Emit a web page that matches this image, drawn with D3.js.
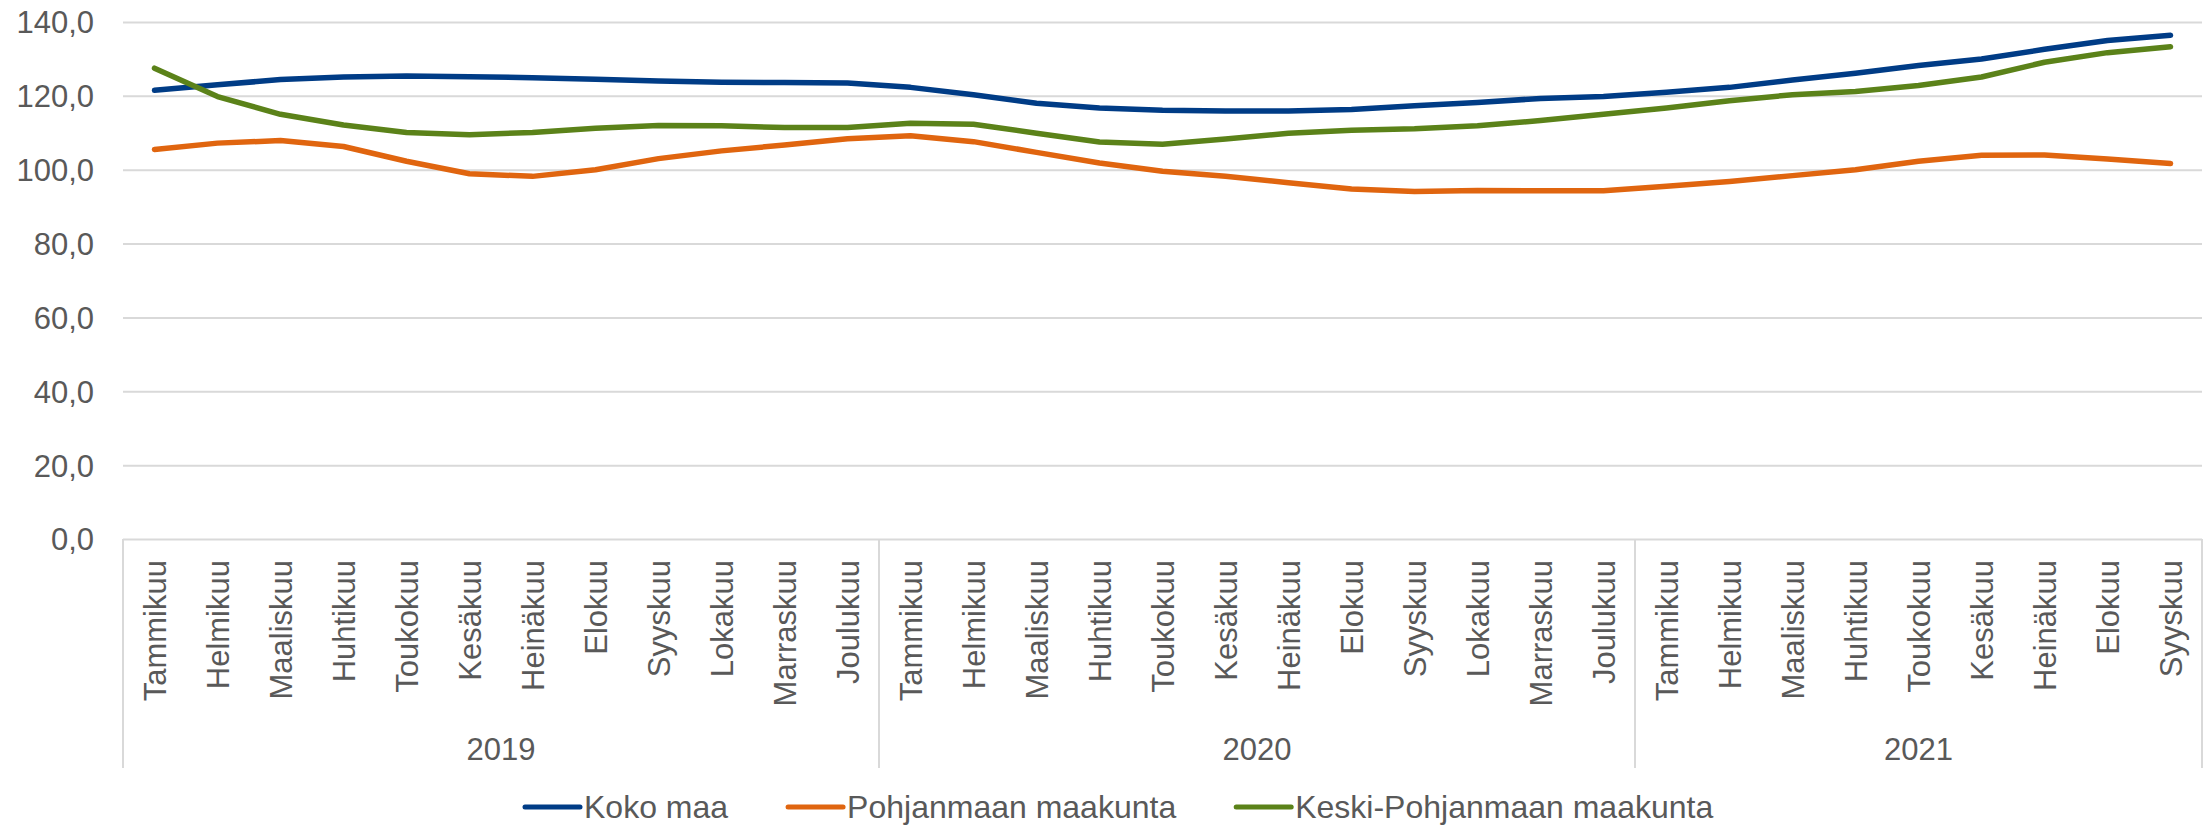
<!DOCTYPE html>
<html>
<head>
<meta charset="utf-8">
<script src="https://cdn.jsdelivr.net/npm/d3@7"></script>
<style>
  body { margin: 0; background: #fff; }
  text { font-family: "Liberation Sans", Arial, sans-serif; fill: #595959; }
</style>
</head>
<body>
<div id="chart-area"></div>
<script>
const years = ['2019', '2020', '2021'];
const months2019 = ['Tammikuu', 'Helmikuu', 'Maaliskuu', 'Huhtikuu', 'Toukokuu', 'Kesäkuu',
  'Heinäkuu', 'Elokuu', 'Syyskuu', 'Lokakuu', 'Marraskuu', 'Joulukuu'];
const months2020 = ['Tammikuu', 'Helmikuu', 'Maaliskuu', 'Huhtikuu', 'Toukokuu', 'Kesäkuu',
  'Heinäkuu', 'Elokuu', 'Syyskuu', 'Lokakuu', 'Marraskuu', 'Joulukuu'];
const months2021 = ['Tammikuu', 'Helmikuu', 'Maaliskuu', 'Huhtikuu', 'Toukokuu', 'Kesäkuu',
  'Heinäkuu', 'Elokuu', 'Syyskuu'];

const kokoMaa = [
  121.5, 123.0, 124.4, 125.1, 125.4, 125.2, 124.9, 124.5, 124.0, 123.7, 123.6, 123.5,
  122.3, 120.3, 118.0, 116.7, 116.1, 115.9, 115.9, 116.3, 117.3, 118.2, 119.3, 119.8,
  121.0, 122.3, 124.3, 126.1, 128.2, 130.0, 132.6, 135.0, 136.4
];
const pohjanmaa = [
  105.5, 107.2, 107.9, 106.3, 102.3, 98.9, 98.2, 100.0, 103.0, 105.1, 106.7, 108.4,
  109.2, 107.6, 104.7, 101.8, 99.6, 98.2, 96.5, 94.8, 94.1, 94.4, 94.3, 94.3,
  95.5, 96.8, 98.4, 100.0, 102.3, 103.9, 104.0, 102.9, 101.7
];
const keskiPohjanmaa = [
  127.5, 119.8, 115.0, 112.1, 110.1, 109.5, 110.1, 111.2, 112.0, 111.9, 111.4, 111.4,
  112.6, 112.3, 109.9, 107.5, 106.9, 108.3, 109.9, 110.7, 111.1, 111.9, 113.3, 115.0,
  116.7, 118.7, 120.3, 121.2, 122.8, 125.1, 129.1, 131.7, 133.3
];
const seriesNames = ['Koko maa', 'Pohjanmaan maakunta', 'Keski-Pohjanmaan maakunta'];
const yTicks = [0, 20, 40, 60, 80, 100, 120, 140];

const colors = ['#003c86', '#e0650f', '#5b8219'];
const chartSize = { width: 2211, height: 827 };
const margin = { left: 123, right: 9, top: 22, bottom: 288 };
const width = chartSize.width - (margin.left + margin.right);
const height = chartSize.height - (margin.top + margin.bottom);
const gridColor = '#d9d9d9';
const fontSize = 31;

const main = () => {
  const monthGroups = [months2019, months2020, months2021];
  const categories = monthGroups.flatMap((ms, g) => ms.map(m => ({ year: years[g], month: m })));
  const series = [kokoMaa, pohjanmaa, keskiPohjanmaa];

  const svg = d3.select('#chart-area').append('svg')
    .attr('width', chartSize.width)
    .attr('height', chartSize.height);

  const g = svg.append('g')
    .attr('transform', `translate(${margin.left},${margin.top})`);

  const x = d3.scaleBand()
    .domain(d3.range(categories.length))
    .range([0, width]);

  const y = d3.scaleLinear()
    .domain([0, 140])
    .range([height, 0]);

  // y axis with gridlines
  const yAxis = d3.axisLeft(y)
    .tickValues(yTicks)
    .tickSize(-width)
    .tickPadding(29)
    .tickFormat(d => d3.format('.1f')(d).replace('.', ','));

  const yG = g.append('g').attr('class', 'y axis').call(yAxis);
  yG.select('.domain').remove();
  yG.selectAll('line').attr('stroke', gridColor).attr('stroke-width', 2);
  yG.selectAll('text')
    .attr('font-size', fontSize)
    .attr('dy', '0.35em')
    .style('fill', '#595959');

  // month labels
  const xAxis = d3.axisBottom(x)
    .tickSize(0)
    .tickFormat(i => categories[i].month);

  const xG = g.append('g').attr('class', 'x axis')
    .attr('transform', `translate(0,${height})`)
    .call(xAxis);
  xG.select('.domain').remove();
  xG.selectAll('text')
    .attr('font-size', fontSize)
    .attr('text-anchor', 'end')
    .attr('transform', 'rotate(-90)')
    .attr('x', -21)
    .attr('y', 11)
    .attr('dy', 0)
    .style('fill', '#595959');

  // year group separators and labels
  const starts = [];
  let acc = 0;
  monthGroups.forEach(ms => { starts.push(acc); acc += ms.length; });
  const bounds = starts.map(s => x(s)).concat([width]);

  g.selectAll('.sep').data(bounds).enter().append('line')
    .attr('class', 'sep')
    .attr('x1', d => d).attr('x2', d => d)
    .attr('y1', height).attr('y2', height + 229)
    .attr('stroke', gridColor).attr('stroke-width', 2);

  g.selectAll('.year').data(years).enter().append('text')
    .attr('class', 'year')
    .attr('x', (d, i) => (bounds[i] + bounds[i + 1]) / 2)
    .attr('y', height + 221)
    .attr('text-anchor', 'middle')
    .attr('font-size', fontSize)
    .text(d => d);

  // lines
  const line = d3.line()
    .x((d, i) => x(i) + x.bandwidth() / 2)
    .y(d => y(d));

  g.selectAll('.series').data(series).enter().append('path')
    .attr('class', 'series')
    .attr('d', d => line(d))
    .attr('fill', 'none')
    .attr('stroke', (d, i) => colors[i])
    .attr('stroke-width', 5.5)
    .attr('stroke-linejoin', 'round')
    .attr('stroke-linecap', 'round');

  // legend
  const legend = svg.append('g').attr('transform', 'translate(0,807)');
  let lx = 525;
  seriesNames.forEach((name, i) => {
    legend.append('line')
      .attr('x1', lx).attr('x2', lx + 55)
      .attr('y1', 0).attr('y2', 0)
      .attr('stroke', colors[i])
      .attr('stroke-width', 5)
      .attr('stroke-linecap', 'round');
    const t = legend.append('text')
      .attr('x', lx + 59)
      .attr('dy', '0.35em')
      .attr('font-size', 32)
      .text(name);
    lx += 59 + t.node().getComputedTextLength() + 60;
  });
};

window.onload = main;
</script>
</body>
</html>
